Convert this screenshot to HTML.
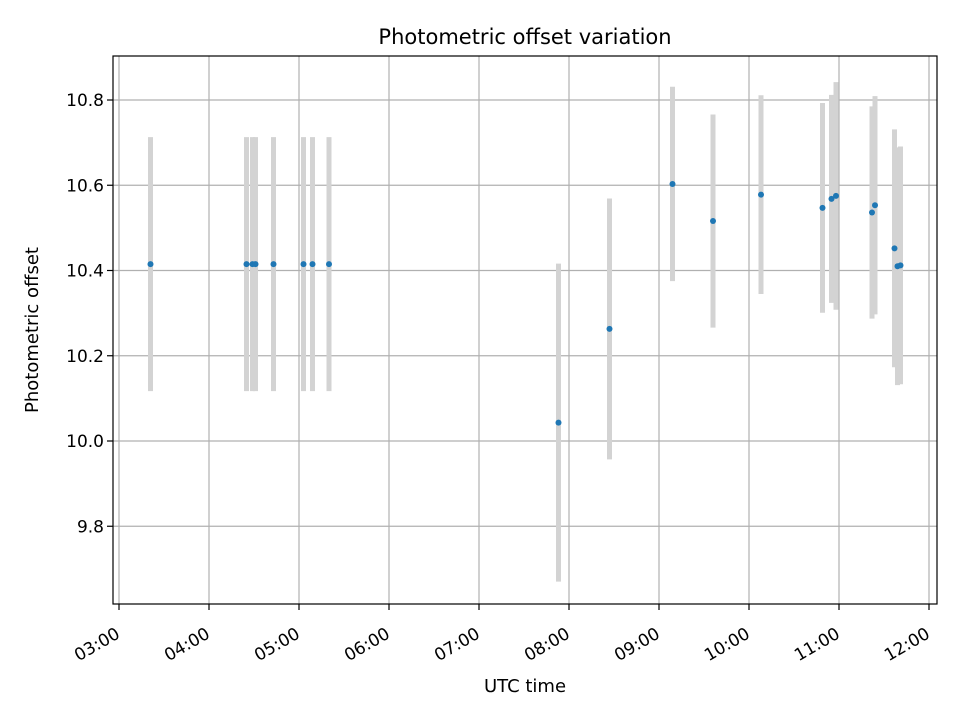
<!DOCTYPE html>
<html><head><meta charset="utf-8"><style>
body{margin:0;background:#fff;}
svg{display:block;font-family:"DejaVu Sans","Liberation Sans",sans-serif;}
</style></head><body>
<svg id="chart" width="960" height="720">
<text x="525" y="44" text-anchor="middle" style="font-size:21px">Photometric offset variation</text>
<text x="525" y="692" text-anchor="middle" style="font-size:18px">UTC time</text>
<text transform="translate(38,330) rotate(-90)" text-anchor="middle" style="font-size:18px">Photometric offset</text>
<g id="grid"></g><g id="bars"></g><g id="pts"></g><g id="axes"></g>
</svg>
<script>
const times = ["03:21","04:25","04:29","04:31","04:43","05:03","05:09","05:20","07:53","08:27","09:09","09:36","10:08","10:49","10:55","10:58","11:22","11:24","11:37","11:39","11:41"];
const offsets = [10.415,10.415,10.415,10.415,10.415,10.415,10.415,10.415,10.043,10.263,10.603,10.516,10.578,10.547,10.568,10.575,10.536,10.553,10.452,10.41,10.412];
const errors = [0.298,0.298,0.298,0.298,0.298,0.298,0.298,0.298,0.373,0.306,0.228,0.25,0.233,0.246,0.244,0.267,0.249,0.256,0.279,0.279,0.279];
const xTicks = ["03:00","04:00","05:00","06:00","07:00","08:00","09:00","10:00","11:00","12:00"];
const yTicks = [9.8,10.0,10.2,10.4,10.6,10.8];

const L=113,R=937,T=56,B=604;
const ns="http://www.w3.org/2000/svg";
function hrs(s){const p=s.split(":");return +p[0]+ +p[1]/60;}
function xs(h){return 119+(h-3)*90;}
function ys(v){return 441-(v-10)*426.25;}
function mk(tag,attrs,parent){const e=document.createElementNS(ns,tag);for(const k in attrs)e.setAttribute(k,attrs[k]);document.getElementById(parent).appendChild(e);return e;}

xTicks.forEach(t=>{
  const x=xs(hrs(t));
  const g=mk("line",{x1:x,x2:x,y1:T,y2:B,stroke:"#b0b0b0","stroke-width":1.2},"grid");
  
  
  const tk=mk("line",{x1:x,x2:x,y1:B,y2:B+6,stroke:"#000","stroke-width":1.2},"axes");
  
  
  const tx=mk("text",{x:0,y:0,"text-anchor":"end",style:"font-size:17px",transform:`translate(${x+2},${B+33}) rotate(-30)`},"axes");
  tx.textContent=t;
  
  
});
yTicks.forEach(v=>{
  const y=ys(v);
  const g=mk("line",{x1:L,x2:R,y1:y,y2:y,stroke:"#b0b0b0","stroke-width":1.2},"grid");
  
  
  const tk=mk("line",{x1:L-6,x2:L,y1:y,y2:y,stroke:"#000","stroke-width":1.2},"axes");
  
  
  const tx=mk("text",{x:L-9,y:y+6,"text-anchor":"end",style:"font-size:17px"},"axes");
  tx.textContent=v.toFixed(1);
  
  
});
const fr=mk("rect",{x:L,y:T,width:R-L,height:B-T,fill:"none",stroke:"#000","stroke-width":1.2},"axes");



times.forEach((t,i)=>{
  const x=xs(hrs(t));
  const b=mk("line",{x1:x,x2:x,y1:ys(offsets[i]+errors[i]),y2:ys(offsets[i]-errors[i]),stroke:"#d3d3d3","stroke-width":5},"bars");
  
  
  const p=mk("circle",{cx:x,cy:ys(offsets[i]),r:3,fill:"#1f77b4"},"pts");
  
  
});
</script>
</body></html>
